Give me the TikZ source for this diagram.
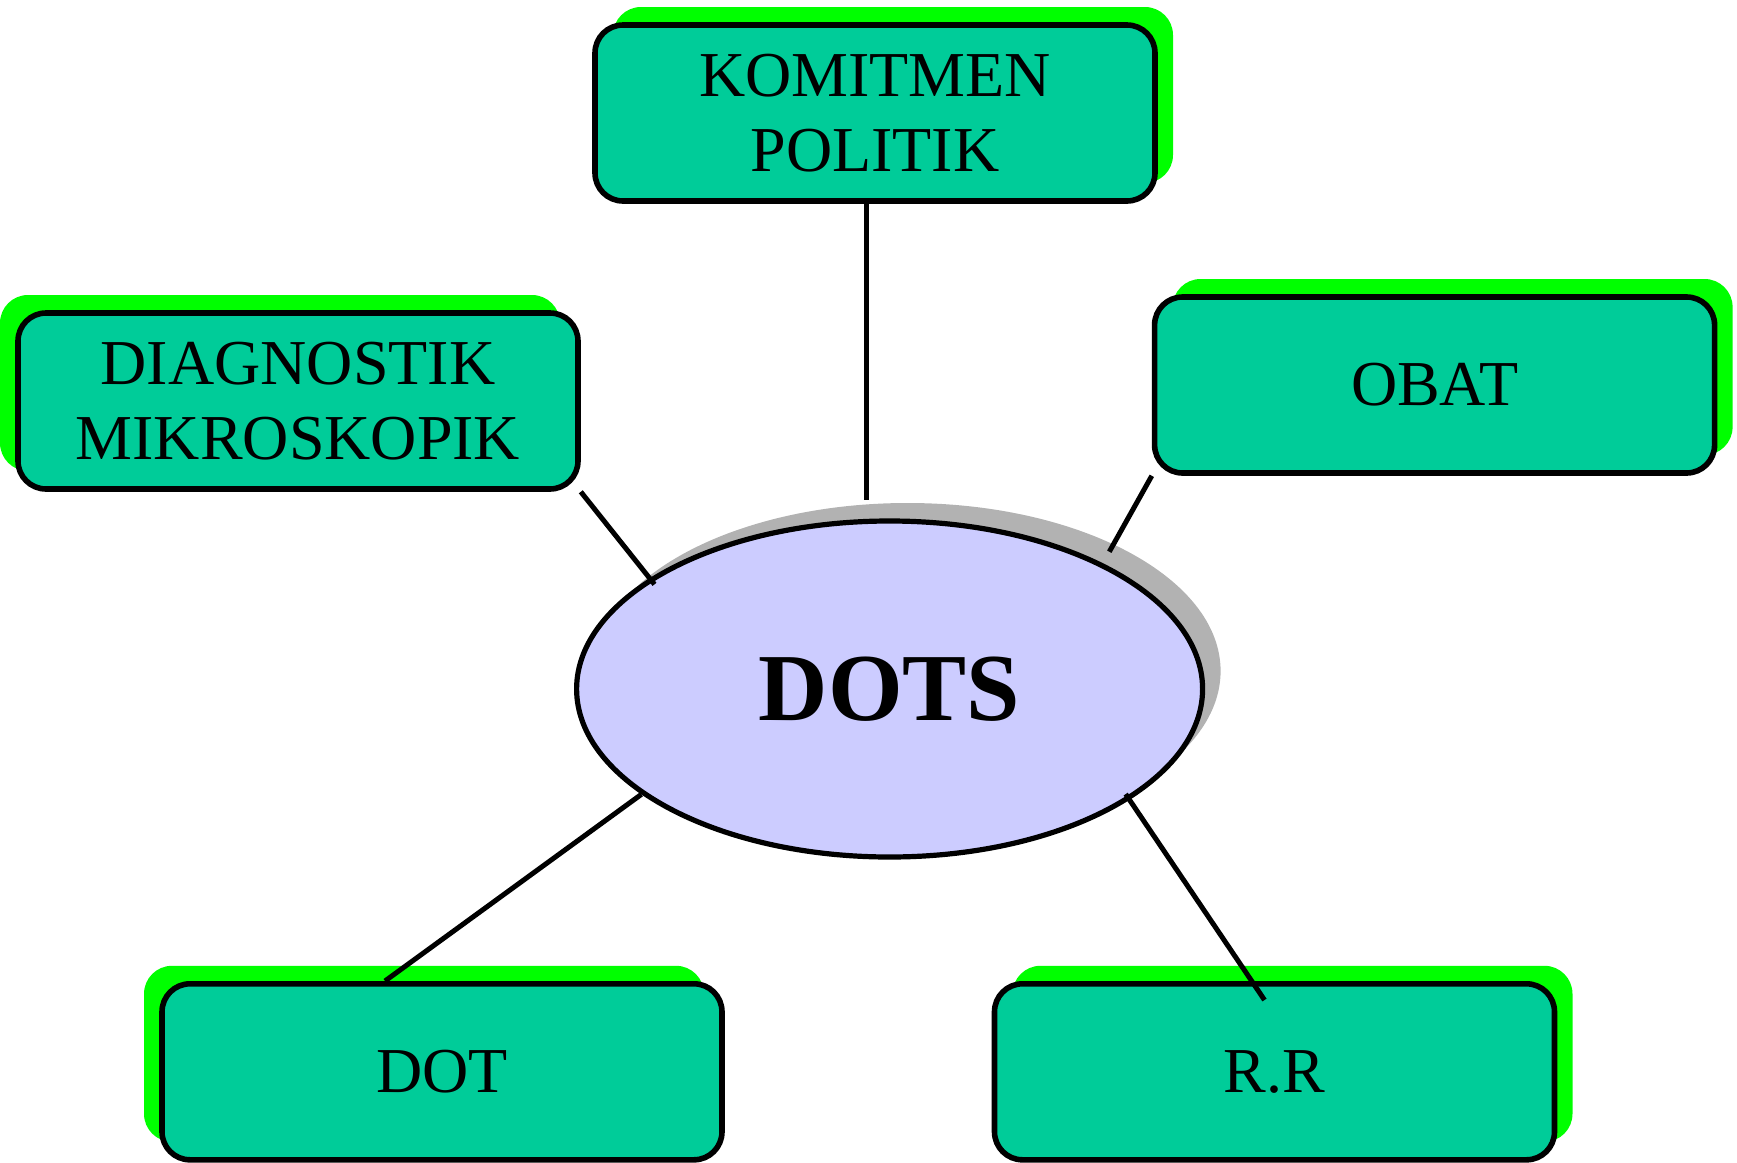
\documentclass[tikz,border=0pt]{standalone}
\usepackage{fontspec}
\setmainfont{Liberation Serif}
\usepackage{tikz}
\usetikzlibrary{calc,shapes,shadows}
\definecolor{boxgreen}{RGB}{0,204,153}
\definecolor{shadegreen}{RGB}{0,255,0}
\definecolor{ellblue}{RGB}{204,204,255}
\definecolor{shadegray}{RGB}{178,178,178}

\begin{document}
\begin{tikzpicture}[x=0.5pt,y=-0.5pt,
		item/.style={shape=rectangle,rounded corners=14pt,draw,line width=2.8pt,fill=boxgreen,minimum width=280pt,minimum height=88pt,align=center,font=\fontsize{32}{37.7}\selectfont},
		shadeR/.style={drop shadow={shadow xshift=9pt,shadow yshift=9pt,fill=shadegreen,opacity=1}},
		shadeL/.style={drop shadow={shadow xshift=-9pt,shadow yshift=9pt,fill=shadegreen,opacity=1}},
		link/.style={line width=2.5pt}]
		\useasboundingbox (0,0) rectangle (1737,1163);
		% centre
		\node(dots) [shape=ellipse,draw,line width=2.6pt,fill=ellblue,minimum width=313pt,minimum height=168pt,inner sep=0pt,
			drop shadow={shadow xshift=9pt,shadow yshift=9pt,fill=shadegray,opacity=1},
			font=\fontsize{48}{48}\selectfont\bfseries] at (889.6,689) {\raisebox{-1.5pt}{DOTS}};
		% the five pillars
		\node(kom) [item,shadeR] at (875,113) {KOMITMEN\\POLITIK};
		\node(diag) [item,shadeL] at (298,401) {DIAGNOSTIK\\MIKROSKOPIK};
		\node(obat) [item,shadeR] at (1434.6,385) {OBAT};
		\node(dot) [item,shadeL] at (442,1071.8) {DOT};
		\node(rr) [item,shadeR] at (1274.5,1071.8) {R.R};
		% links
		\draw[link] ([xshift=-4.5pt]kom.south) -- ($(dots.north -| kom.south)+(-4.5pt,9pt)$);
		\draw[link] (diag.south east) -- ($(dots.center)!0.965!(dots.156)$);
		\draw[link] (obat.south west) -- ($(dots.center)!1.064!(dots.32)$);
		\draw[link] ([xshift=-28.5pt]dot.north) -- (dots.203);
		\draw[link] ($(dots.center)!0.969!(dots.336)$) -- ([xshift=-5pt,yshift=-9.5pt]rr.north);
	\end{tikzpicture}
\end{document}
